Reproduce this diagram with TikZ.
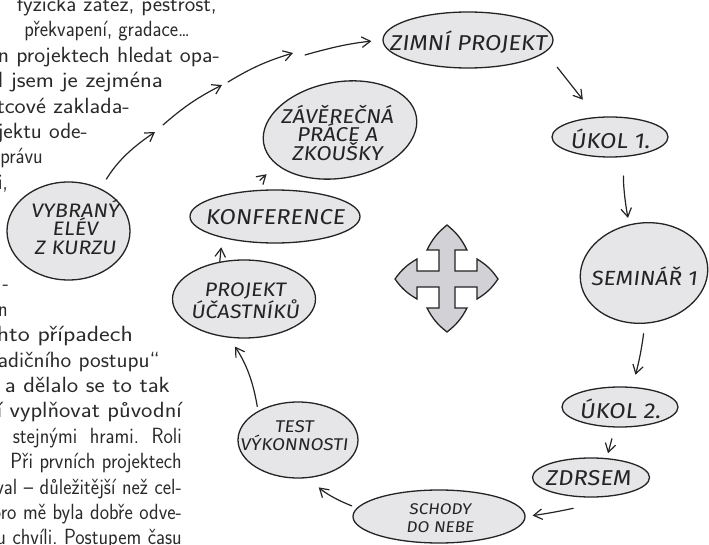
\documentclass[tikz,border=0pt]{standalone}
\usepackage{fontspec}
\usepackage{graphicx}
\newfontfamily\hand{Fira Sans}[FakeSlant=0.12, FakeStretch=1.1]
\usetikzlibrary{shapes.geometric,arrows.meta}
\definecolor{ink}{HTML}{242424}
\definecolor{ellfill}{HTML}{E6E6E8}
\definecolor{crossfill}{HTML}{D2D2D6}
\definecolor{bodyink}{HTML}{2A2A2A}
% spacing used in the page text
\newcommand\bsp{\frenchspacing\spaceskip=0.333em plus 0.5em minus 0.2em\relax}
% justified line of given (visible) width, right aligned if too long
\newcommand\bline[2]{\scalebox{0.9}[1]{\hbox to \dimexpr #1*10/9\relax{\bsp\hskip 0pt minus 1fil #2}}}
% line fitted to a given width by horizontal scaling
\newcommand\fline[2]{\resizebox{#1}{\height}{\frenchspacing #2}}
\newcommand\nline[1]{\scalebox{0.9}[1]{#1}}
\begin{document}
\begin{tikzpicture}[x=1pt,y=-1pt,
  ell/.style={ellipse, draw=ink, fill=ellfill, line width=1.3pt, inner sep=0pt},
  lbl/.style={font=\hand\fontsize{21.5}{19}\selectfont, text=ink, align=center, inner sep=0pt},
  conn/.style={draw=ink, line width=1.2pt, line cap=round, -{Straight Barb[length=8.5pt,width=10.5pt]}},
  body/.style={font=\sffamily\fontsize{22}{25}\selectfont, text=bodyink, anchor=base east, inner sep=0pt}]
\useasboundingbox (0,0) rectangle (709,545);
\clip (0,0) rectangle (709,545);

% background page text
\node[body] (t1) at (217,11.5) {\fline{200pt}{fyzická zátěž, pestrost,}};
\node[body] (t2) at (190,36.9) {\nline{překvapení, gradace…}};
\node[body] (t3) at (220,62.3) {\fline{222pt}{n projektech hledat opa-}};
\node[body] (t4) at (163,87.7) {\fline{165pt}{l jsem je zejména}};
\node[body] (t5) at (130,113.1) {\fline{133pt}{tcové zaklada-}};
\node[body] (t6) at (88,138.5) {\fline{90pt}{jektu ode-}};
\node[body] (t7) at (43,163.9) {\nline{právu}};
\node[body] (t8) at (8,189.3) {\nline{i,}};
\node[body] (t12) at (9,290.9) {\nline{-}};
\node[body] (t13) at (8,316.3) {\nline{n}};
\node[body] (t14) at (133,341.7) {\fline{136pt}{hto případech}};
\node[body] (t15) at (160,367.1) {\fline{162pt}{adičního postupu“}};
\node[body] (t16) at (170,392.5) {\fline{165pt}{a dělalo se to tak}};
\node[body] (t17) at (182,417.9) {\fline{185pt}{í vyplňovat původní}};
\node[body] (t18) at (182,443.3) {\bline{169pt}{stejnými hrami. Roli}};
\node[body] (t19) at (182,468.7) {\bline{170pt}{Při prvních projektech}};
\node[body] (t20) at (182,494.1) {\bline{185pt}{val – důležitější než cel-}};
\node[body] (t21) at (182,519.5) {\bline{185pt}{oro mě byla dobře odve-}};
\node[body] (t22) at (182,544.9) {\bline{185pt}{u chvíli. Postupem času}};

% ellipses
\node[ell, minimum width=170pt, minimum height=56pt] (zimni) at (468,40) {};
\node[ell, minimum width=116pt, minimum height=40pt] (ukol1) at (610,137) {};
\node[ell, minimum width=128pt, minimum height=100pt, rotate=8] (seminar) at (644,273) {};
\node[ell, minimum width=116pt, minimum height=40pt] (ukol2) at (620,407) {};
\node[ell, minimum width=117pt, minimum height=39pt] (zdrsem) at (591,477.5) {};
\node[ell, minimum width=172pt, minimum height=53pt] (schody) at (439,516.5) {};
\node[ell, minimum width=120pt, minimum height=76pt] (test) at (298,440) {};
\node[ell, minimum width=143pt, minimum height=78pt] (projekt) at (244,299) {};
\node[ell, minimum width=170pt, minimum height=53pt] (konf) at (275,216.5) {};
\node[ell, minimum width=155pt, minimum height=96pt, rotate=10] (zaver) at (340,130) {};
\node[ell, minimum width=123pt, minimum height=98pt] (vybrany) at (68.5,231) {};

% labels
\node[lbl] (zimnit) at (468,42) {ZIMNÍ PROJEKT};
\node[lbl] (ukol1t) at (610,139) {ÚKOL 1.};
\node[lbl, font=\hand\fontsize{20.5}{19}\selectfont] (seminart) at (644,276) {SEMINÁŘ 1};
\node[lbl] (ukol2t) at (620,409) {ÚKOL 2.};
\node[lbl] (zdrsemt) at (588,478) {ZDRSEM};
\node[lbl, font=\hand\fontsize{15.5}{18}\selectfont] (schodyt) at (440,518) {SCHODY\\DO NEBE};
\node[lbl, font=\hand\fontsize{17}{18}\selectfont] (testt) at (294,436) {TEST\\VÝKONNOSTI};
\node[lbl, font=\hand\fontsize{19.5}{20}\selectfont] (projektt) at (245,301) {PROJEKT\\ÚČASTNÍKŮ};
\node[lbl] (konft) at (275,217) {KONFERENCE};
\node[lbl, font=\hand\fontsize{20}{18.5}\selectfont] (zavert) at (337,133) {ZÁVĚREČNÁ\\PRÁCE A\\ZKOUŠKY};
\node[lbl, font=\hand\fontsize{19.5}{18.5}\selectfont] (vybranyt) at (75,227) {VYBRANÝ\\ELÉV\\Z KURZU};

% connectors of the cycle
\draw[conn, shorten <=19pt, shorten >=22pt] (zimni.-9) -- (ukol1.124);
\draw[conn, shorten <=19pt, shorten >=6.5pt] (ukol1.-55) to[bend right=6] (seminar.99);
\draw[conn, shorten <=10pt, shorten >=12.5pt] (seminar.-97) to[bend left=4] (ukol2.59);
\draw[conn, shorten <=11.5pt, shorten >=5pt] (ukol2.-104) -- (zdrsem.51);
\draw[conn, shorten <=33pt, shorten >=7pt] (zdrsem.-56) to[bend left=6] (schody.0);
\draw[conn, shorten <=5.5pt, shorten >=14pt] (schody.174) to[bend left=10] (test.-75);
\draw[conn, shorten <=4.5pt, shorten >=10.6pt] (test.144) to[bend right=12] (projekt.-111);
\draw[conn, shorten >=9.5pt] (projekt.123) -- (konf.-158);
\draw[conn, shorten <=15.5pt, shorten >=13.7pt] (konf.136) -- (zaver.-161);

% broken arc from VYBRANY to ZIMNI
\coordinate (p1) at (155,132);
\coordinate (p2) at (163,125);
\coordinate (p3) at (222,85);
\coordinate (p4) at (228,82);
\coordinate (p5) at (293,53);
\coordinate (p6) at (305,55);
\draw[conn, shorten <=11pt] (vybrany.53) to[bend left=12] (p1);
\draw[conn] (p2) to[bend left=7] (p3);
\draw[conn] (p4) to[bend left=7] (p5);
\draw[conn, shorten >=11pt] (p6) to[bend left=5] (zimni.180);

% four-way arrow
\draw[draw=ink, fill=crossfill, line width=1.3pt, line join=miter]
  (447,225) to[bend left=12] (467,250) -- (455,250) -- (455,271) -- (477,271) -- (477,259)
  to[bend left=12] (498,279) to[bend left=12] (477,299) -- (477,287) -- (455,287) -- (455,308) -- (467,308)
  to[bend left=12] (447,332) to[bend left=12] (427,308) -- (439,308) -- (439,287) -- (417,287) -- (417,299)
  to[bend left=12] (395,279) to[bend left=12] (417,259) -- (417,271) -- (439,271) -- (439,250) -- (427,250)
  to[bend left=12] cycle;
\end{tikzpicture}
\end{document}
